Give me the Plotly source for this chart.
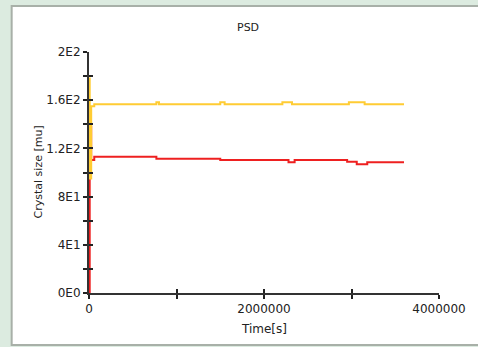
import plotly.graph_objects as go

# ---- data ----
t_upper = [0, 8000, 25000, 60000, 770000, 800000, 1500000, 1550000,
           2210000, 2320000, 2970000, 3150000, 3600000]
size_upper = [178, 95, 155, 156.7, 158.3, 156.7, 158.3, 156.7,
              158.3, 156.7, 158.3, 156.7, 156.7]

t_lower = [0, 8000, 25000, 60000, 770000, 1500000, 2280000, 2350000,
           2950000, 3060000, 3180000, 3600000]
size_lower = [0, 138, 110.4, 113.1, 111.5, 110.4, 108.5, 110.4,
              109.0, 106.8, 108.5, 108.5]

x_ticks = [0, 1000000, 2000000, 3000000, 4000000]
x_ticklabels = ["0", "", "2000000", "", "4000000"]
y_ticks = [0, 20, 40, 60, 80, 100, 120, 140, 160, 180, 200]
y_ticklabels = ["0E0", "", "4E1", "", "8E1", "", "1.2E2", "", "1.6E2", "", "2E2"]

FONT = "DejaVu Sans"

fig = go.Figure()
fig.add_trace(go.Scatter(x=t_lower, y=size_lower, mode="lines",
                         line=dict(color="#EE2020", width=2, shape="hv"),
                         showlegend=False, hoverinfo="skip"))
fig.add_trace(go.Scatter(x=t_upper, y=size_upper, mode="lines",
                         line=dict(color="#FFCC33", width=2, shape="hv"),
                         showlegend=False, hoverinfo="skip"))
# dummy trace for inner tick marks
fig.add_trace(go.Scatter(x=[None], y=[None], xaxis="x2", yaxis="y2",
                         showlegend=False, hoverinfo="skip"))

L, R, T, B = 89, 36, 52, 54
W, H = 478, 347
pw, ph = W - L - R, H - T - B

def px_x(p):
    return (p - L) / pw

def px_y(p):
    return (H - B - p) / ph

axis_common = dict(showgrid=False, zeroline=False)

fig.update_layout(
    width=W, height=H,
    margin=dict(l=L, r=R, t=T, b=B),
    paper_bgcolor="#dcebe0",
    plot_bgcolor="rgba(0,0,0,0)",
    font=dict(family=FONT, size=12, color="#222"),
    xaxis=dict(range=[0, 4000000], tickvals=x_ticks, ticktext=x_ticklabels,
               ticks="outside", ticklen=4, tickwidth=1.5, tickcolor="#222",
               showline=True, linecolor="#333", linewidth=2,
               tickfont=dict(family=FONT, size=12, color="#222"), **axis_common),
    yaxis=dict(range=[0, 200], tickvals=y_ticks, ticktext=y_ticklabels,
               ticks="outside", ticklen=4, tickwidth=1.5, tickcolor="#222",
               showline=True, linecolor="#333", linewidth=2,
               tickfont=dict(family=FONT, size=12, color="#222"), **axis_common),
    xaxis2=dict(range=[0, 4000000], tickvals=x_ticks, ticks="inside", ticklen=4,
                tickwidth=1.5, tickcolor="#222", showticklabels=False,
                overlaying="x", side="bottom", showline=False, **axis_common),
    yaxis2=dict(range=[0, 200], tickvals=y_ticks, ticks="inside", ticklen=4,
                tickwidth=1.5, tickcolor="#222", showticklabels=False,
                overlaying="y", side="left", showline=False, **axis_common),
    shapes=[dict(type="rect", xref="paper", yref="paper", layer="below",
                 x0=px_x(11), x1=px_x(490), y0=px_y(345), y1=px_y(6),
                 fillcolor="white", line=dict(color="#a8b0a8", width=2))],
    annotations=[
        dict(text="PSD", xref="paper", yref="paper", x=px_x(249), y=px_y(28),
             showarrow=False, xanchor="center", yanchor="middle",
             font=dict(family=FONT, size=11, color="#222")),
        dict(text="Time[s]", xref="paper", yref="paper", x=px_x(266), y=px_y(329),
             showarrow=False, xanchor="center", yanchor="middle",
             font=dict(family=FONT, size=12, color="#222")),
        dict(text="Crystal size [mu]", xref="paper", yref="paper", x=px_x(38),
             y=px_y(172), showarrow=False, xanchor="center", yanchor="middle",
             textangle=-90, font=dict(family=FONT, size=11, color="#222")),
    ],
)

fig.write_html("out.html")
